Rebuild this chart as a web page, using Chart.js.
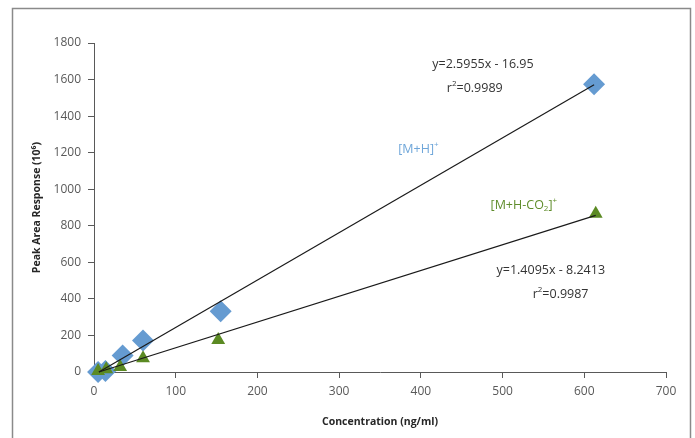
<!DOCTYPE html>
<html>
<head>
<meta charset="utf-8">
<script src="https://cdn.jsdelivr.net/npm/chart.js@4"></script>
<style>
  html, body { margin: 0; padding: 0; background: #fff; }
  #wrap { position: relative; width: 695px; height: 438px; }
</style>
</head>
<body>
<div id="wrap"><canvas id="chart" width="695" height="438"></canvas></div>
<script>
// values
const mhX = [5, 14, 35, 60, 155, 612];
const mhY = [0, 5, 90, 172, 332, 1575];
const co2X = [5, 15, 32, 60, 152, 614];
const co2Y = [5, 15, 28, 75, 175, 866];

// fitted lines as drawn (start / end points)
const mhFitX = [6, 612];
const mhFitY = [0, 1572];
const co2FitX = [6, 614];
const co2FitY = [0, 857];

const xTicks = [0, 100, 200, 300, 400, 500, 600, 700];
const yTicks = [0, 200, 400, 600, 800, 1000, 1200, 1400, 1600, 1800];

const xTitle = "Concentration (ng/ml)";
const yTitle = "Peak Area Response (10\u2076)";

// text notes: [x, y] in data units, runs of [text, kind]
const notes = [
  { at: [476, 1680], color: "#333333", runs: [["y=2.5955x - 16.95", ""]] },
  { at: [466, 1554], color: "#333333", runs: [["r", ""], ["2", "sup"], ["=0.9989", ""]] },
  { at: [397, 1220], color: "#6fa6d9", runs: [["[M+H]", ""], ["+", "sup"]] },
  { at: [526, 914], color: "#5e8c2a", runs: [["[M+H-CO", ""], ["2", "sub"], ["]", ""], ["+", "sup"]] },
  { at: [559, 553], color: "#333333", runs: [["y=1.4095x - 8.2413", ""]] },
  { at: [571, 427], color: "#333333", runs: [["r", ""], ["2", "sup"], ["=0.9987", ""]] },
];

const pts = (xs, ys) => xs.map((x, i) => ({ x: x, y: ys[i] }));

const FONT = "'Open Sans', 'Noto Sans', sans-serif";

const notesPlugin = {
  id: "notes",
  beforeDraw(chart) {
    const ctx = chart.ctx;
    ctx.save();
    ctx.strokeStyle = "#8a8a8a";
    ctx.lineWidth = 1.5;
    ctx.strokeRect(12.5, 8.5, 678, 460);
    ctx.restore();
  },
  afterDraw(chart) {
    const ctx = chart.ctx;
    const xs = chart.scales.x;
    const ys = chart.scales.y;
    ctx.save();
    ctx.textBaseline = "middle";
    ctx.textAlign = "left";
    notes.forEach((n) => {
      const px = xs.getPixelForValue(n.at[0]);
      const py = ys.getPixelForValue(n.at[1]);
      const sized = n.runs.map(([t, k]) => {
        const size = k ? 8 : 12.5;
        ctx.font = "500 " + size + "px " + FONT;
        return { t: t, k: k, size: size, w: ctx.measureText(t).width };
      });
      const total = sized.reduce((s, r) => s + r.w, 0);
      let x = px - total / 2;
      ctx.fillStyle = n.color;
      sized.forEach((r) => {
        ctx.font = "500 " + r.size + "px " + FONT;
        let dy = 0;
        if (r.k === "sup") dy = -4;
        if (r.k === "sub") dy = 4;
        ctx.fillText(r.t, x, py + dy);
        x += r.w;
      });
    });
    ctx.restore();
  },
};

const axisColor = "#595959";

new Chart(document.getElementById("chart").getContext("2d"), {
  type: "scatter",
  data: {
    datasets: [
      {
        data: pts(mhFitX, mhFitY),
        showLine: true,
        borderColor: "#1a1a1a",
        borderWidth: 1.2,
        pointRadius: 0,
        clip: false,
      },
      {
        data: pts(co2FitX, co2FitY),
        showLine: true,
        borderColor: "#1a1a1a",
        borderWidth: 1.2,
        pointRadius: 0,
        clip: false,
      },
      {
        data: pts(co2X, co2Y),
        pointStyle: "triangle",
        pointRadius: 8,
        backgroundColor: "#5b8a23",
        borderWidth: 0,
        clip: false,
      },
      {
        data: pts(mhX, mhY),
        pointStyle: "rectRot",
        pointRadius: 11,
        backgroundColor: "#659bd1",
        borderWidth: 0,
        clip: false,
      },
    ],
  },
  options: {
    responsive: false,
    animation: false,
    layout: { padding: { left: 0, right: 29, top: 43, bottom: 0 } },
    plugins: { legend: { display: false }, tooltip: { enabled: false } },
    scales: {
      x: {
        type: "linear",
        min: 0,
        max: 700,
        afterBuildTicks: (s) => { s.ticks = xTicks.map((v) => ({ value: v })); },
        afterFit: (s) => { s.height = 66; },
        ticks: { color: axisColor, font: { family: FONT, size: 12 }, padding: 6, callback: (v) => String(v) },
        grid: { drawOnChartArea: false, drawTicks: true, tickLength: 6, color: axisColor },
        border: { display: true, color: axisColor, width: 1 },
        title: {
          display: true,
          text: xTitle,
          color: "#262626",
          font: { family: FONT, size: 10.5, weight: "bold" },
          padding: { top: 0, bottom: 10 },
        },
      },
      y: {
        type: "linear",
        min: 0,
        max: 1800,
        afterBuildTicks: (s) => { s.ticks = yTicks.map((v) => ({ value: v })); },
        afterFit: (s) => { s.width = 94; },
        ticks: { color: axisColor, font: { family: FONT, size: 12 }, padding: 7, callback: (v) => String(v) },
        grid: { drawOnChartArea: false, drawTicks: true, tickLength: 6, color: axisColor },
        border: { display: true, color: axisColor, width: 1 },
        title: {
          display: true,
          text: yTitle,
          color: "#262626",
          font: { family: FONT, size: 10.5, weight: "bold" },
          padding: { top: 31, bottom: 0 },
        },
      },
    },
  },
  plugins: [notesPlugin],
});
</script>
</body>
</html>
